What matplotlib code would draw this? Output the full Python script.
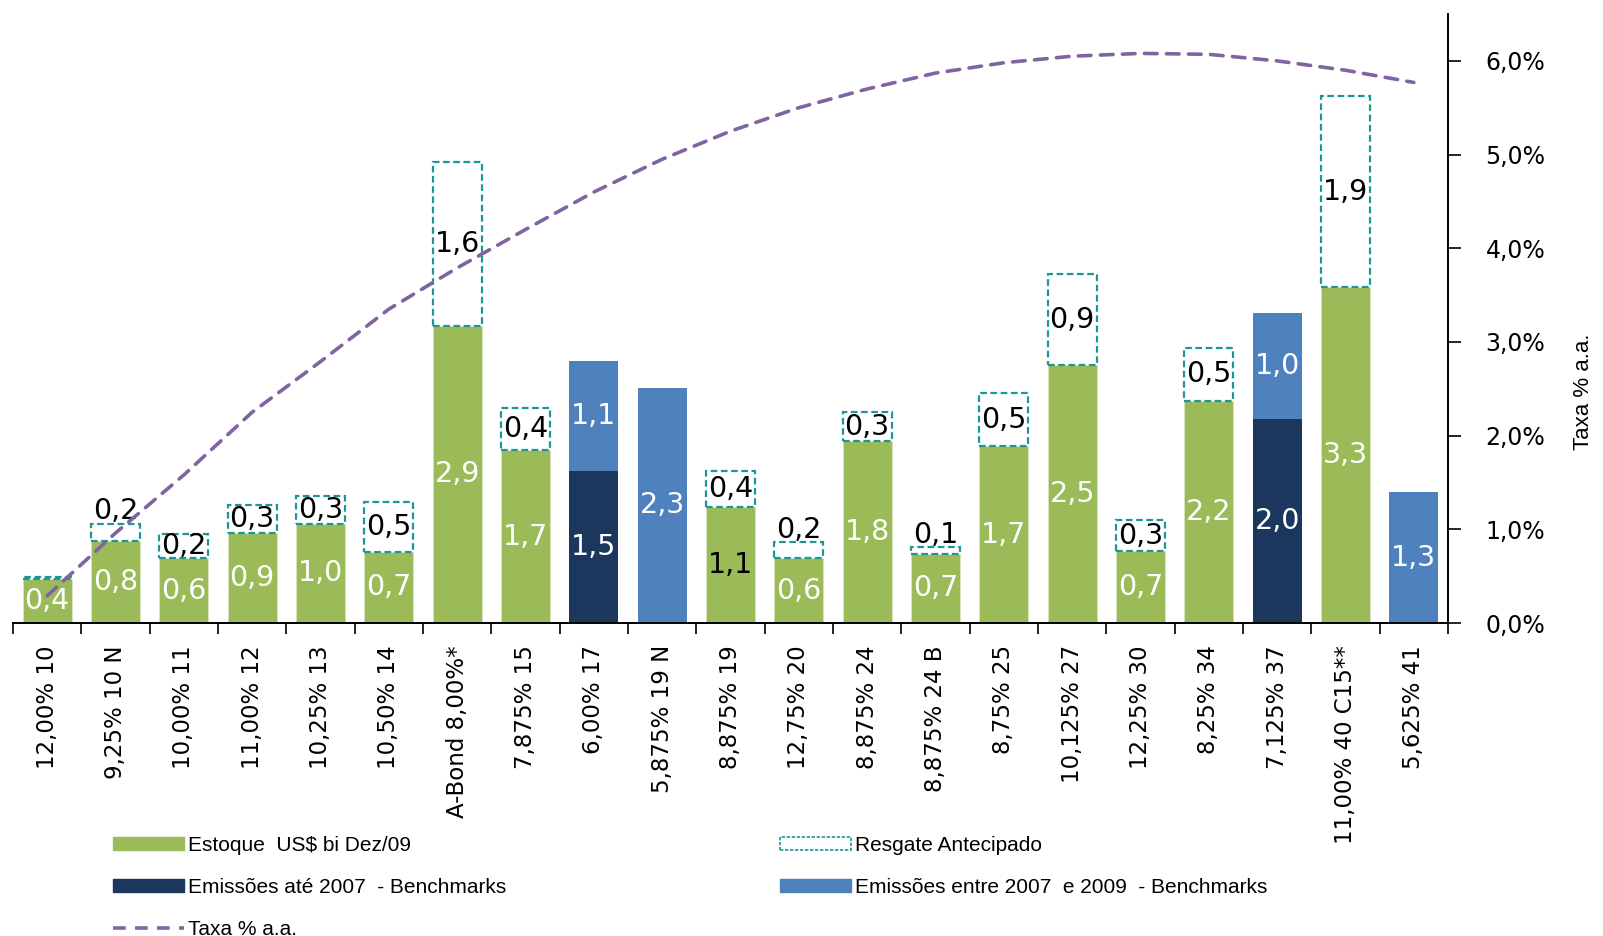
import numpy as np
import matplotlib
matplotlib.use("Agg")
import matplotlib.pyplot as plt
from matplotlib.patches import Patch
from matplotlib.lines import Line2D

# data
titulos = ["12,00% 10", "9,25% 10 N", "10,00% 11", "11,00% 12", "10,25% 13",
           "10,50% 14", "A-Bond 8,00%*", "7,875% 15", "6,00% 17", "5,875% 19 N",
           "8,875% 19", "12,75% 20", "8,875% 24", "8,875% 24 B", "8,75% 25",
           "10,125% 27", "12,25% 30", "8,25% 34", "7,125% 37", "11,00% 40 C15**",
           "5,625% 41"]
estoque = [0.43, 0.81, 0.64, 0.89, 0.98, 0.70, 2.93, 1.70, 0, 0,
           1.14, 0.64, 1.79, 0.68, 1.74, 2.54, 0.71, 2.19, 0, 3.31, 0]
resgate = [0.02, 0.17, 0.24, 0.27, 0.27, 0.49, 1.61, 0.42, 0, 0,
           0.36, 0.16, 0.29, 0.07, 0.53, 0.90, 0.30, 0.52, 0, 1.88, 0]
emis_ate_2007 = [0, 0, 0, 0, 0, 0, 0, 0, 1.50, 0,
                 0, 0, 0, 0, 0, 0, 0, 0, 2.01, 0, 0]
emis_2007_2009 = [0, 0, 0, 0, 0, 0, 0, 0, 1.08, 2.32,
                  0, 0, 0, 0, 0, 0, 0, 0, 1.04, 0, 1.29]
taxa = [0.29, 0.96, 1.58, 2.25, 2.79, 3.35, 3.79, 4.20, 4.60, 4.95,
        5.25, 5.50, 5.70, 5.87, 5.98, 6.05, 6.08, 6.07, 6.00, 5.90, 5.77]

VERDE = "#9BBB59"
AZUL_ESC = "#1B375E"
AZUL = "#4F81BD"
TEAL = "#1E9696"
ROXO = "#8064A2"
narrow = ["Liberation Sans", "DejaVu Sans"]

def fmt(v):
    return f"{v:.1f}".replace(".", ",")

x = np.arange(len(titulos))
w = 0.72
estoque = np.array(estoque)
resgate = np.array(resgate)
ate = np.array(emis_ate_2007)
entre = np.array(emis_2007_2009)

fig = plt.figure(figsize=(16.03, 9.36), dpi=100)
ax = fig.add_axes([0.0081, 0.3344, 0.8952, 0.6506])

ax.bar(x, estoque, w, color=VERDE, edgecolor="#d8e4bc", linewidth=0.6)
ax.bar(x, resgate, w, bottom=estoque, facecolor="white", edgecolor=TEAL,
       linewidth=1.6, linestyle=(0, (3, 1.6)))
ax.bar(x, ate, w, color=AZUL_ESC)
ax.bar(x, entre, w, bottom=ate, color=AZUL)

# value labels
for i in x:
    if estoque[i] > 0:
        c = "black" if i == 10 else "white"
        ax.text(i, estoque[i] / 2, fmt(estoque[i]), ha="center", va="center",
                color=c, fontsize=20.5)
    if resgate[i] >= 0.05:
        if resgate[i] < 0.2:
            yy = estoque[i] + resgate[i] + 0.12
        else:
            yy = estoque[i] + resgate[i] / 2
        ax.text(i, yy, fmt(resgate[i]), ha="center", va="center",
                color="black", fontsize=20.5)
    if ate[i] > 0:
        ax.text(i, ate[i] / 2, fmt(ate[i]), ha="center", va="center",
                color="white", fontsize=20.5)
    if entre[i] > 0:
        ax.text(i, ate[i] + entre[i] / 2, fmt(entre[i]), ha="center",
                va="center", color="white", fontsize=20.5)

ax.set_xlim(-0.5, len(titulos) - 0.5)
ax.set_ylim(0, 6.0)
ax.set_xticks(x)
ax.set_xticklabels(titulos, rotation=90, fontsize=16.5)
ax.set_xticks(np.arange(len(titulos) + 1) - 0.5, minor=True)
ax.tick_params(axis="x", which="major", length=0, pad=16)
ax.tick_params(axis="x", which="minor", length=8, width=1.2, direction="out")
ax.set_yticks([])
for s in ["left", "top", "right"]:
    ax.spines[s].set_visible(False)
ax.spines["bottom"].set_linewidth(1.4)

ax2 = ax.twinx()
ax2.plot(x, taxa, color=ROXO, lw=2.6, dashes=(3.5, 2.6), dash_capstyle="round")
ax2.set_ylim(0, 6.5)
ax2.set_yticks(np.arange(0, 6.01, 1.0))
ax2.set_yticklabels([f"{v:.1f}%".replace(".", ",") for v in np.arange(0, 6.01, 1.0)],
                    fontsize=17)
ax2.tick_params(axis="y", length=9, width=1.2, pad=18)
for s in ["left", "top", "bottom"]:
    ax2.spines[s].set_visible(False)
ax2.spines["right"].set_linewidth(1.4)
ax2.set_ylabel("Taxa % a.a.", fontsize=16, family=narrow)
ax2.yaxis.set_label_coords(1.087, 0.379)

# legend, two columns
h_est = Patch(facecolor=VERDE, edgecolor=VERDE)
h_ate = Patch(facecolor=AZUL_ESC, edgecolor=AZUL_ESC)
h_tax = Line2D([0], [0], color=ROXO, lw=2.6, dashes=(3.5, 2.6))
h_res = Patch(facecolor="white", edgecolor=TEAL, linestyle=(0, (2, 1)), linewidth=1.2)
h_ent = Patch(facecolor=AZUL, edgecolor=AZUL)

kw = dict(loc="upper left", frameon=False, borderpad=0, borderaxespad=0,
          handlelength=3.4, handleheight=0.6, handletextpad=0.2,
          labelspacing=1.1, prop={"family": narrow, "size": 15})
fig.legend([h_est, h_ate, h_tax],
           ["Estoque  US$ bi Dez/09", "Emissões até 2007  - Benchmarks", "Taxa % a.a."],
           bbox_to_anchor=(113 / 1603, 1 - 836 / 936), **kw)
fig.legend([h_res, h_ent],
           ["Resgate Antecipado", "Emissões entre 2007  e 2009  - Benchmarks"],
           bbox_to_anchor=(780 / 1603, 1 - 836 / 936), **kw)

fig.savefig("out.png", dpi=100)
